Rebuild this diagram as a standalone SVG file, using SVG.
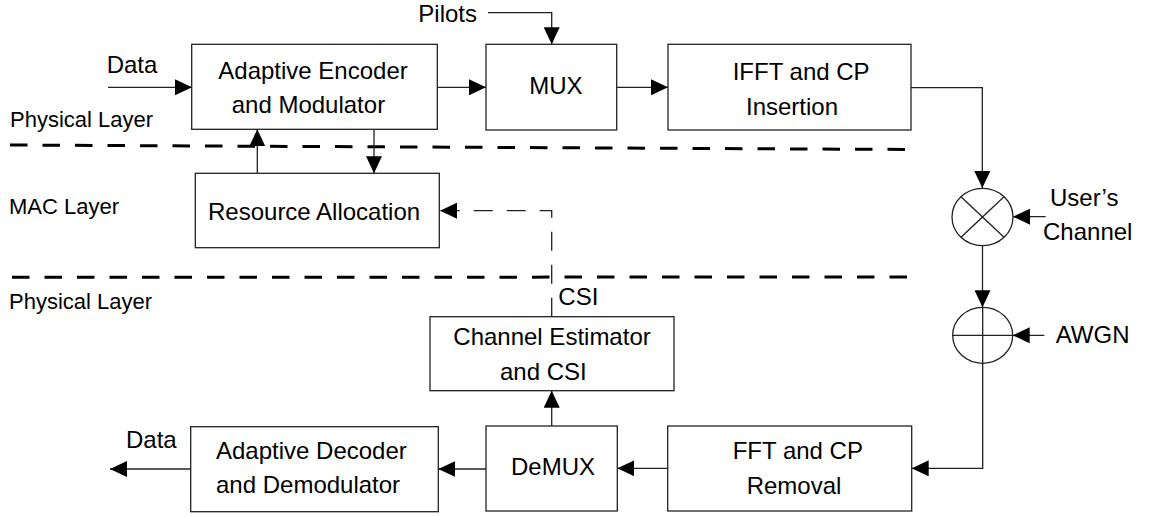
<svg xmlns="http://www.w3.org/2000/svg" width="1154" height="517" viewBox="0 0 1154 517">
  <style>
    .box { fill: #ffffff; stroke: #222222; stroke-width: 1.3; }
    .lbl { font-family: "Liberation Sans", Arial, sans-serif; font-size: 24px; fill: #000000; }
    .side { font-family: "Liberation Sans", Arial, sans-serif; font-size: 22px; fill: #000000; }
    .wire { fill: none; stroke: #222222; stroke-width: 1.3; }
    .dashw { fill: none; stroke: #222222; stroke-width: 1.3; stroke-dasharray: 19 14; }
    .layer { fill: none; stroke: #000000; stroke-width: 3; stroke-dasharray: 17.5 15; }
    .op { fill: #ffffff; stroke: #222222; stroke-width: 1.3; }
  </style>
  <defs>
    <marker id="arrow" viewBox="0 0 17 16" refX="17" refY="8" markerWidth="17" markerHeight="16" markerUnits="userSpaceOnUse" orient="auto">
      <path d="M0,0 L17,8 L0,16 Z" fill="#000000"/>
    </marker>
  </defs>

  <rect width="1154" height="517" fill="#ffffff"/>

  <!-- layer boundaries and layer names -->
  <g id="layers">
    <line class="layer" x1="10" y1="145" x2="914" y2="149.5"/>
    <line class="layer" x1="12" y1="277.3" x2="916" y2="277"/>
    <text class="side" x="10" y="126.7">Physical Layer</text>
    <text class="side" x="9" y="214.3">MAC Layer</text>
    <text class="side" x="9" y="309.3">Physical Layer</text>
  </g>

  <!-- connectors -->
  <g id="connectors">
    <line class="wire" x1="108" y1="87.3" x2="192" y2="87.3" marker-end="url(#arrow)"/>
    <path class="wire" d="M488,12.7 H551.7 V44.3" marker-end="url(#arrow)"/>
    <line class="wire" x1="437.5" y1="87.3" x2="486" y2="87.3" marker-end="url(#arrow)"/>
    <line class="wire" x1="617" y1="87.3" x2="668" y2="87.3" marker-end="url(#arrow)"/>
    <line class="wire" x1="257.3" y1="173.3" x2="257.3" y2="129.3" marker-end="url(#arrow)"/>
    <line class="wire" x1="374" y1="129.3" x2="374" y2="173.3" marker-end="url(#arrow)"/>
    <path class="wire" d="M911,87.7 H982.3 V188" marker-end="url(#arrow)"/>
    <line class="wire" x1="1045.7" y1="216.7" x2="1013" y2="216.7" marker-end="url(#arrow)"/>
    <line class="wire" x1="982.5" y1="245.7" x2="982.5" y2="307.3" marker-end="url(#arrow)"/>
    <line class="wire" x1="1044.3" y1="335.3" x2="1012.7" y2="335.3" marker-end="url(#arrow)"/>
    <path class="wire" d="M982.7,363.3 V468.3 H911.7" marker-end="url(#arrow)"/>
    <line class="wire" x1="667.7" y1="468.3" x2="617.3" y2="468.3" marker-end="url(#arrow)"/>
    <line class="wire" x1="486" y1="469" x2="438.3" y2="469" marker-end="url(#arrow)"/>
    <line class="wire" x1="190.7" y1="469" x2="110" y2="469" marker-end="url(#arrow)"/>
    <line class="wire" x1="551.7" y1="426" x2="551.7" y2="390.7" marker-end="url(#arrow)"/>
    <path class="dashw" d="M551.7,316.7 V210.7 H440" marker-end="url(#arrow)"/>
    <text class="lbl" x="106.7" y="72.7">Data</text>
    <text class="lbl" x="418.3" y="22">Pilots</text>
    <text class="lbl" x="126" y="447.7">Data</text>
    <text class="lbl" x="558.3" y="305">CSI</text>
    <text class="lbl" x="1050" y="205.7">User’s</text>
    <text class="lbl" x="1043" y="240">Channel</text>
    <text class="lbl" x="1055.7" y="343.3">AWGN</text>
  </g>

  <g id="encoder">
    <rect class="box" x="191.7" y="44.3" width="245.6" height="85"/>
    <text class="lbl" x="218.3" y="79.3">Adaptive Encoder</text>
    <text class="lbl" x="231.7" y="113.3">and Modulator</text>
  </g>

  <g id="mux">
    <rect class="box" x="486" y="44.3" width="130.7" height="85.7"/>
    <text class="lbl" x="529.3" y="94.3">MUX</text>
  </g>

  <g id="ifft">
    <rect class="box" x="668" y="44.3" width="243" height="85.7"/>
    <text class="lbl" x="732.7" y="80">IFFT and CP</text>
    <text class="lbl" x="746" y="115">Insertion</text>
  </g>

  <g id="resource-allocation">
    <rect class="box" x="195.3" y="173.3" width="244" height="74.4"/>
    <text class="lbl" x="208" y="220">Resource Allocation</text>
  </g>

  <g id="multiplier">
    <ellipse class="op" cx="982.5" cy="217" rx="30.5" ry="28.7"/>
    <line class="wire" x1="961" y1="196.7" x2="1004" y2="237.3"/>
    <line class="wire" x1="1004" y1="196.7" x2="961" y2="237.3"/>
  </g>

  <g id="adder">
    <ellipse class="op" cx="982.7" cy="335.3" rx="30" ry="28"/>
    <line class="wire" x1="952.7" y1="335.3" x2="1012.7" y2="335.3"/>
    <line class="wire" x1="982.7" y1="307.3" x2="982.7" y2="363.3"/>
  </g>

  <g id="channel-estimator">
    <rect class="box" x="430" y="316.7" width="244" height="74"/>
    <text class="lbl" x="453.3" y="345">Channel Estimator</text>
    <text class="lbl" x="500" y="380">and CSI</text>
  </g>

  <g id="fft">
    <rect class="box" x="667.7" y="426" width="244" height="85"/>
    <text class="lbl" x="732.7" y="459.3">FFT and CP</text>
    <text class="lbl" x="746.7" y="494">Removal</text>
  </g>

  <g id="demux">
    <rect class="box" x="486" y="426" width="131.3" height="85"/>
    <text class="lbl" x="511" y="475">DeMUX</text>
  </g>

  <g id="decoder">
    <rect class="box" x="190.7" y="426.7" width="247.6" height="85"/>
    <text class="lbl" x="216" y="459.3">Adaptive Decoder</text>
    <text class="lbl" x="216" y="493.3">and Demodulator</text>
  </g>
</svg>
